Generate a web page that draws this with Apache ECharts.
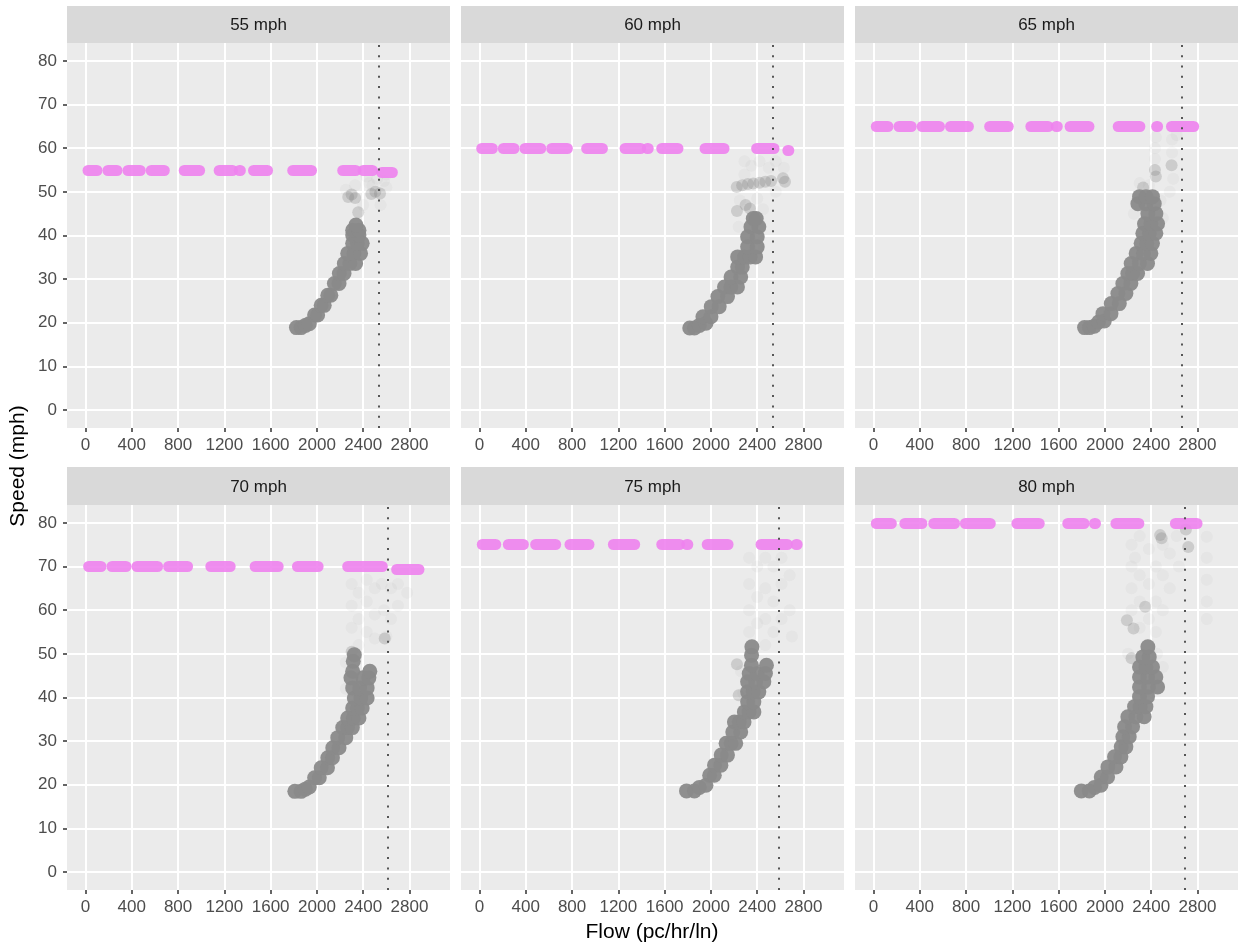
<!DOCTYPE html>
<html>
<head>
<meta charset="utf-8">
<script src="https://cdn.jsdelivr.net/npm/echarts@6/dist/echarts.min.js"></script>
<style>
  html, body { margin: 0; padding: 0; background: #fff; }
  #chart { width: 1238px; height: 944px; }
</style>
</head>
<body>
<div id="chart"></div>
<script>
// facets
const panelTitles = ['55 mph', '60 mph', '65 mph', '70 mph', '75 mph', '80 mph'];
const freeSpeed = [55, 60, 65, 70, 75, 80];
const capacity = [2530, 2535, 2660, 2615, 2590, 2690];

const xTicks = [0, 400, 800, 1200, 1600, 2000, 2400, 2800];
const yTicks = [0, 10, 20, 30, 40, 50, 60, 70, 80];

// uncongested points, drawn as runs [flowStart, flowEnd, speed?]
const free55 = [[22, 99], [194, 272], [367, 473], [568, 681], [853, 986], [1155, 1271], [1330, 1338],
  [1452, 1573], [1791, 1953], [2223, 2335], [2400, 2480], [2560, 2652, 54.5]];
const free60 = [[19, 111], [206, 298], [393, 529], [624, 759], [926, 1062], [1258, 1393], [1450, 1458],
  [1575, 1715], [1949, 2113], [2395, 2545], [2665, 2673, 59.5]];
const free65 = [[24, 125], [220, 326], [421, 570], [665, 820], [1004, 1165], [1360, 1509], [1580, 1588],
  [1699, 1862], [2115, 2302], [2447, 2455], [2575, 2767]];
const free70 = [[27, 134], [229, 350], [445, 623], [718, 882], [1083, 1250], [1466, 1665],
  [1832, 2010], [2266, 2565], [2689, 2882, 69.4]];
const free75 = [[24, 140], [249, 379], [485, 658], [782, 946], [1157, 1341], [1575, 1729], [1792, 1800],
  [1968, 2148], [2433, 2661], [2737, 2745]];
const free80 = [[24, 154], [271, 418], [521, 700], [794, 1009], [1239, 1432], [1679, 1819], [1910, 1918],
  [2095, 2293], [2609, 2796]];

// congested branch [flow, speed]
const cong55 = [[1823, 18.9], [1863, 18.9], [1900, 19.4], [1934, 19.8], [1980, 21.8], [2006, 21.8],
  [2037, 24.0], [2063, 24.0], [2094, 26.3], [2120, 26.3], [2151, 29.0], [2191, 29.0], [2194, 31.3], [2234, 31.3],
  [2237, 33.6], [2285, 33.6], [2334, 33.6], [2266, 35.9], [2320, 35.9], [2377, 35.9], [2309, 38.2], [2350, 38.2],
  [2391, 38.2], [2309, 40.1], [2363, 40.1], [2309, 41.2], [2363, 41.2], [2337, 42.4]];
const cong60 = [[1817, 18.8], [1857, 18.8], [1900, 19.4], [1957, 19.9], [1931, 21.4], [2000, 21.4],
  [2003, 23.7], [2071, 23.7], [2060, 26.0], [2143, 26.0], [2117, 28.2], [2173, 28.2], [2229, 28.2], [2174, 30.5],
  [2257, 30.5], [2231, 32.8], [2271, 32.8], [2231, 35.1], [2290, 35.1], [2340, 35.1], [2386, 35.1], [2317, 37.4],
  [2400, 37.4], [2317, 39.7], [2400, 39.7], [2346, 42.0], [2414, 42.0], [2366, 43.9], [2391, 43.9]];
const cong65 = [[1824, 18.9], [1866, 18.9], [1908, 19.2], [1945, 20.2], [1994, 20.4], [1983, 22.1],
  [2052, 22.1], [2055, 24.4], [2124, 24.4], [2112, 26.7], [2181, 26.7], [2155, 29.0], [2224, 29.0], [2198, 31.3],
  [2240, 31.3], [2282, 31.3], [2227, 33.6], [2298, 33.6], [2368, 33.6], [2270, 35.9], [2333, 35.9], [2397, 35.9],
  [2313, 38.2], [2362, 38.2], [2411, 38.2], [2328, 40.5], [2384, 40.5], [2440, 40.5], [2342, 42.7], [2398, 42.7],
  [2455, 42.7], [2371, 45.0], [2440, 45.0], [2285, 47.3], [2355, 47.3], [2426, 47.3], [2299, 48.9], [2355, 48.9],
  [2411, 48.9]];
const cong70 = [[1809, 18.5], [1863, 18.5], [1900, 19.0], [1934, 19.5], [1980, 21.6], [2020, 21.6],
  [2037, 23.9], [2091, 23.9], [2094, 26.2], [2134, 26.2], [2137, 28.5], [2191, 28.5], [2180, 30.8], [2249, 30.8],
  [2223, 33.1], [2265, 33.1], [2306, 33.1], [2266, 35.3], [2315, 35.3], [2363, 35.3], [2309, 37.6], [2350, 37.6],
  [2391, 37.6], [2323, 39.9], [2380, 39.9], [2434, 39.9], [2309, 42.2], [2370, 42.2], [2434, 42.2], [2294, 44.5],
  [2400, 44.5], [2449, 44.5], [2309, 46.0], [2457, 46.0], [2314, 48.3], [2323, 49.8]];
const cong75 = [[1789, 18.6], [1857, 18.6], [1900, 19.4], [1957, 19.9], [1989, 22.2], [2029, 22.2],
  [2031, 24.5], [2086, 24.5], [2089, 26.8], [2143, 26.8], [2131, 29.5], [2175, 29.5], [2214, 29.5], [2189, 32.1],
  [2257, 32.1], [2203, 34.4], [2245, 34.4], [2286, 34.4], [2289, 36.7], [2330, 36.7], [2371, 36.7], [2317, 39.0],
  [2371, 39.0], [2317, 41.3], [2366, 41.3], [2414, 41.3], [2317, 43.6], [2387, 43.6], [2457, 43.6], [2331, 45.5],
  [2400, 45.5], [2471, 45.5], [2350, 47.4], [2480, 47.4], [2351, 49.7], [2354, 51.6]];
const cong80 = [[1796, 18.6], [1865, 18.6], [1910, 19.4], [1965, 19.9], [1968, 21.8], [2023, 21.8],
  [2026, 24.1], [2095, 24.1], [2083, 26.4], [2138, 26.4], [2141, 28.7], [2181, 28.7], [2155, 31.0], [2210, 31.0],
  [2170, 33.3], [2239, 33.3], [2198, 35.6], [2268, 35.6], [2339, 35.6], [2256, 37.9], [2305, 37.9], [2354, 37.9],
  [2299, 40.2], [2368, 40.2], [2299, 42.4], [2377, 42.4], [2455, 42.4], [2299, 44.7], [2370, 44.7], [2440, 44.7],
  [2299, 47.0], [2355, 47.0], [2411, 47.0], [2328, 49.3], [2383, 49.3], [2371, 51.6]];

// transition points [flow, speed]
const trans55 = [[2270, 48.8], [2300, 49.4], [2330, 48.6], [2470, 49.5], [2505, 50.0], [2545, 49.6], [2357, 45.3]];
const trans60 = [[2223, 51.1], [2270, 51.5], [2320, 51.8], [2366, 51.9], [2420, 52.1], [2470, 52.3], [2520, 52.5],
  [2623, 53.1], [2640, 52.3], [2337, 46.2], [2225, 45.6], [2300, 47.0]];
const trans65 = [[2432, 55.0], [2576, 56.1], [2440, 53.5], [2330, 51.0]];
const trans70 = [[2586, 53.5], [2300, 50.5]];
const trans75 = [[2225, 47.6], [2240, 40.5]];
const trans80 = [[2477, 77.2], [2490, 76.5], [2700, 78.5], [2247, 55.8], [2190, 57.7], [2348, 60.8], [2720, 74.5],
  [2230, 49.0]];

// sparse single observations [flow, speed]
const sparse55 = [[2250, 50.5], [2330, 51.5], [2400, 47.0], [2450, 52.0], [2520, 53.0], [2580, 52.5], [2600, 51.0],
  [2480, 51.5], [2550, 47.0], [2430, 53.5], [2600, 54.0]];
const sparse60 = [[2290, 57.0], [2290, 54.0], [2350, 56.0], [2420, 57.0], [2500, 55.5], [2560, 57.0], [2630, 55.5],
  [2250, 48.0], [2400, 48.5], [2450, 46.0], [2560, 50.0], [2240, 42.0]];
const sparse65 = [[2432, 60.0], [2432, 57.5], [2440, 62.5], [2580, 62.0], [2580, 59.0], [2590, 53.0], [2560, 50.0],
  [2380, 51.5], [2480, 48.0], [2620, 63.0], [2300, 52.0], [2250, 45.0], [2500, 44.0]];
const sparse70 = [[2300, 66], [2300, 61], [2300, 56], [2360, 64], [2360, 58], [2360, 52], [2430, 67], [2430, 62],
  [2430, 55], [2500, 65], [2500, 59], [2500, 53.5], [2560, 66], [2580, 60], [2640, 65], [2640, 58], [2700, 66],
  [2700, 61], [2780, 64], [2600, 54], [2250, 48], [2250, 42]];
const sparse75 = [[2330, 72], [2330, 66], [2330, 60], [2330, 55], [2400, 70], [2400, 63], [2400, 57], [2470, 72],
  [2470, 65], [2470, 58], [2470, 52], [2540, 70], [2540, 62], [2540, 55], [2610, 72], [2610, 66], [2610, 58],
  [2680, 68], [2680, 60], [2700, 54], [2260, 46], [2280, 41]];
const sparse80 = [[2230, 75], [2230, 70], [2230, 65], [2230, 60], [2260, 72], [2300, 77], [2300, 68], [2300, 62],
  [2300, 56], [2380, 74], [2380, 66], [2380, 58], [2440, 70], [2440, 62], [2440, 55], [2500, 75], [2500, 68],
  [2500, 60], [2560, 73], [2560, 65], [2620, 77], [2640, 70], [2880, 76.8], [2880, 72], [2880, 67], [2880, 62],
  [2880, 58], [2450, 50], [2500, 47], [2200, 50]];

const freeRuns = [free55, free60, free65, free70, free75, free80];
const congested = [cong55, cong60, cong65, cong70, cong75, cong80];
const transition = [trans55, trans60, trans65, trans70, trans75, trans80];
const sparse = [sparse55, sparse60, sparse65, sparse70, sparse75, sparse80];

const FONT = '"Liberation Sans", Arial, sans-serif';
const colLeft = [67, 461, 855];
const rowTop = [43, 505];
const stripTop = [6, 467];
const panelW = 383;
const panelH = 385;

const chart = echarts.init(document.getElementById('chart'));

function buildGrids() {
  return panelTitles.map((t, i) => ({
    left: colLeft[i % 3],
    top: rowTop[Math.floor(i / 3)],
    width: panelW,
    height: panelH,
    show: true,
    backgroundColor: '#EBEBEB',
    borderWidth: 0
  }));
}

function buildXAxes() {
  return panelTitles.map((t, i) => ({
    gridIndex: i,
    type: 'value',
    position: 'bottom',
    min: -160,
    max: 3150,
    axisLine: { show: false, onZero: false },
    axisTick: { show: true, length: 4, customValues: xTicks, lineStyle: { color: '#333333', width: 1.5 } },
    axisLabel: {
      customValues: xTicks, color: '#4D4D4D', fontSize: 17, fontFamily: FONT, margin: 9,
      formatter: v => String(v)
    },
    splitLine: { show: false }
  }));
}

function buildYAxes() {
  return panelTitles.map((t, i) => {
    const left = i % 3 === 0;
    return {
      gridIndex: i,
      type: 'value',
      position: 'left',
      min: -4.1,
      max: 84.1,
      axisLine: { show: false, onZero: false },
      axisTick: { show: left, length: 4, customValues: yTicks, lineStyle: { color: '#333333', width: 1.5 } },
      axisLabel: {
        show: left, customValues: yTicks, color: '#4D4D4D', fontSize: 17, fontFamily: FONT, margin: 10,
        formatter: v => String(v)
      },
      splitLine: { show: false }
    };
  });
}

function buildSeries() {
  const series = [];
  panelTitles.forEach((t, i) => {
    const axes = { xAxisIndex: i, yAxisIndex: i };
    // white panel grid lines at the tick values
    series.push({
      ...axes, type: 'scatter', data: [], silent: true,
      markLine: {
        silent: true, symbol: 'none', label: { show: false }, z: 1, animation: false,
        lineStyle: { color: '#FFFFFF', width: 2, type: 'solid' },
        data: xTicks.map(v => ({ xAxis: v })).concat(yTicks.map(v => ({ yAxis: v })))
      }
    });
    series.push({
      ...axes, type: 'scatter', symbolSize: 12, silent: true, z: 2,
      itemStyle: { color: '#8C8C8C', opacity: 0.06 },
      data: sparse[i]
    });
    series.push({
      ...axes, type: 'scatter', symbolSize: 12, silent: true, z: 2,
      itemStyle: { color: '#7F7F7F', opacity: 0.28 },
      data: transition[i]
    });
    series.push({
      ...axes, type: 'scatter', symbolSize: 15, silent: true, z: 2,
      itemStyle: { color: '#8A8A8A', opacity: 0.95 },
      data: congested[i]
    });
    series.push({
      ...axes, type: 'lines', coordinateSystem: 'cartesian2d', silent: true, polyline: false, z: 3,
      lineStyle: { color: '#EE82EE', width: 11, cap: 'round', opacity: 0.9 },
      data: freeRuns[i].map(r => {
        const s = r.length > 2 ? r[2] : freeSpeed[i];
        return { coords: [[r[0], s], [r[1], s]] };
      })
    });
    series.push({
      ...axes, type: 'scatter', data: [], silent: true,
      markLine: {
        silent: true, symbol: 'none', label: { show: false }, z: 6, animation: false,
        lineStyle: { color: '#555555', width: 2, type: [2, 8.3] },
        data: [{ xAxis: capacity[i] }]
      }
    });
  });
  return series;
}

function buildGraphics() {
  const g = [];
  panelTitles.forEach((t, i) => {
    const x = colLeft[i % 3];
    const y = stripTop[Math.floor(i / 3)];
    const h = rowTop[Math.floor(i / 3)] - y;
    g.push({ type: 'rect', shape: { x: x, y: y, width: panelW, height: h }, style: { fill: '#D9D9D9' }, silent: true });
    g.push({
      type: 'text', x: x + panelW / 2, y: y + h / 2 + 1, silent: true,
      style: { text: t, fill: '#1A1A1A', font: '17px ' + FONT, align: 'center', verticalAlign: 'middle' }
    });
  });
  g.push({
    type: 'text', x: 652, y: 932, silent: true,
    style: { text: 'Flow (pc/hr/ln)', fill: '#000000', font: '21px ' + FONT, align: 'center', verticalAlign: 'middle' }
  });
  g.push({
    type: 'text', x: 18, y: 466, rotation: Math.PI / 2, silent: true,
    style: { text: 'Speed (mph)', fill: '#000000', font: '21px ' + FONT, align: 'center', verticalAlign: 'middle' }
  });
  return g;
}

chart.setOption({
  animation: false,
  backgroundColor: '#FFFFFF',
  grid: buildGrids(),
  xAxis: buildXAxes(),
  yAxis: buildYAxes(),
  series: buildSeries(),
  graphic: buildGraphics()
});
</script>
</body>
</html>
